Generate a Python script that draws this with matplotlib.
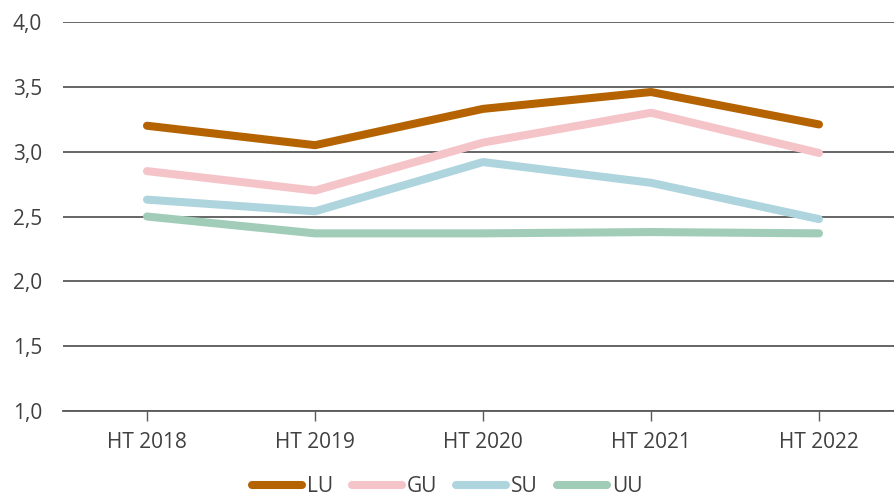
import matplotlib
matplotlib.use("Agg")
import matplotlib.pyplot as plt

categories = ["HT 2018", "HT 2019", "HT 2020", "HT 2021", "HT 2022"]
series_names = ["LU", "GU", "SU", "UU"]
lu = [3.20, 3.05, 3.33, 3.46, 3.21]
gu = [2.85, 2.70, 3.07, 3.30, 2.99]
su = [2.63, 2.54, 2.92, 2.76, 2.48]
uu = [2.50, 2.37, 2.37, 2.38, 2.37]
colors = ["#B56200", "#F5C4C8", "#AED4DE", "#A0CCB8"]
yticks = [1.0, 1.5, 2.0, 2.5, 3.0, 3.5, 4.0]

plt.rcParams['font.family'] = ['Open Sans', 'DejaVu Sans']
text_color = "#404040"
fs = 15

fig = plt.figure(figsize=(8.94, 5.01), dpi=100)
ax = fig.add_axes([63/894, 1 - 411/501, (903-63)/894, (411-22)/501])

x = list(range(len(categories)))
for name, vals, c in zip(series_names, [lu, gu, su, uu], colors):
    ax.plot(x, vals, color=c, lw=5.8, solid_capstyle='round', solid_joinstyle='round', label=name)

ax.set_xlim(-0.5, 4.5)
ax.set_ylim(1.0, 4.0)
ax.set_yticks(yticks)
ax.set_yticklabels([f"{v:.1f}".replace(".", ",") for v in yticks])
ax.set_xticks(x)
ax.set_xticklabels(categories)
ax.grid(axis='y', color="#595959", lw=1.3)
ax.set_axisbelow(True)
for s in ["top", "right", "left"]:
    ax.spines[s].set_visible(False)
ax.spines["bottom"].set_color("#595959")
ax.spines["bottom"].set_linewidth(1.3)
ax.tick_params(axis='y', length=0, pad=15, labelsize=fs, labelcolor=text_color)
ax.tick_params(axis='x', length=7, width=1.0, color="#595959", pad=8, labelsize=fs, labelcolor=text_color)

leg = fig.legend(loc='lower center', bbox_to_anchor=(0.5, -0.03), ncol=4, frameon=False,
                 fontsize=fs, handlelength=2.4, handletextpad=0.25, columnspacing=0.9,
                 labelcolor=text_color)
fig.savefig("out.png", dpi=100)
